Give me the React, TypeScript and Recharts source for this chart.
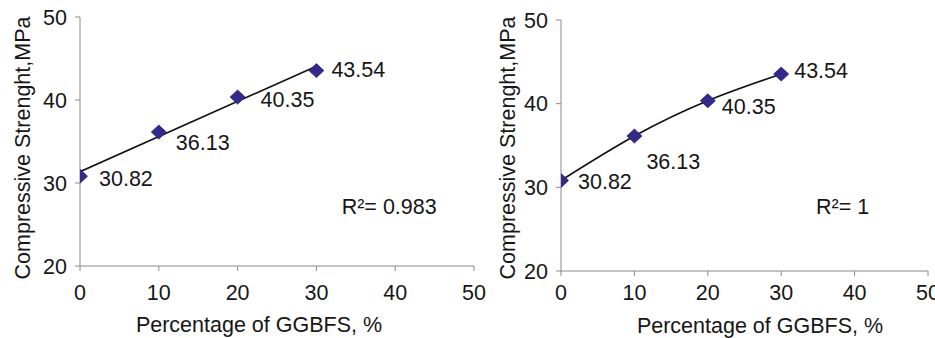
import React from 'react';
import { ComposedChart, Scatter, Line, XAxis, YAxis } from 'recharts';

// ---- data ----
const ggbfs = [0, 10, 20, 30];
const strength = [30.82, 36.13, 40.35, 43.54];
const strengthLabels = ['30.82', '36.13', '40.35', '43.54'];
const linearTrendX = [0, 30];
const linearTrendY = [31.35, 44.07];
const xTicks = [0, 10, 20, 30, 40, 50];
const yTicks = [20, 30, 40, 50];
const r2Left = 'R\u00B2= 0.983';
const r2Right = 'R\u00B2= 1';
const xTitle = 'Percentage of GGBFS, %';
const yTitle = 'Compressive Strenght,MPa';

// label placement offsets (style, relative to each marker)
const leftLabelOffsets = [[19, 2.5], [17, 10.5], [23, 3], [15, -0.5]];
const rightLabelOffsets = [[17, 1.5], [12, 26], [14, 6], [13, -3]];

const FONT = '"Liberation Sans", Arial, Helvetica, sans-serif';
const FS = 21.5;
const TEXT = '#161616';
const AXIS = '#8a8a8a';
const MARK = '#33288c';

const points = ggbfs.map((x, i) => ({ x, y: strength[i], label: strengthLabels[i] }));
const trendPoints = linearTrendX.map((x, i) => ({ x, y: linearTrendY[i] }));

const makeShape = (offsets: number[][]) => (p: any) => {
  const { cx, cy, payload } = p;
  const idx = ggbfs.indexOf(payload.x);
  const hw = 7.5;
  const hh = 7;
  const [dx, dy] = offsets[idx] || [15, 0];
  return (
    <g>
      <polygon
        points={`${cx},${cy - hh} ${cx + hw},${cy} ${cx},${cy + hh} ${cx - hw},${cy}`}
        fill={MARK}
        stroke="#2a2070"
        strokeWidth={0.8}
      />
      <text
        x={cx + dx}
        y={cy + dy}
        dominantBaseline="central"
        textAnchor="start"
        fontFamily={FONT}
        fontSize={FS}
        fill={TEXT}
      >
        {payload.label}
      </text>
    </g>
  );
};

type PanelProps = {
  left: number;
  width: number;
  yAxisWidth: number;
  marginTop: number;
  marginRight: number;
  xAxisHeight: number;
  xTickMargin: number;
  xTitleDx: number;
  xTitleOffset: number;
  yTitleDx: number;
  yTitleDy: number;
  offsets: number[][];
  curved: boolean;
  r2: string;
  r2X: number;
  r2Y: number;
};

const Panel = (p: PanelProps) => (
  <div style={{ position: 'absolute', left: p.left, top: 0, width: p.width, height: 338 }}>
    <ComposedChart
      width={p.width}
      height={338}
      margin={{ top: p.marginTop, right: p.marginRight, bottom: 0, left: 0 }}
      style={{ overflow: 'visible' }}
    >
      <XAxis
        type="number"
        dataKey="x"
        domain={[0, 50]}
        ticks={xTicks}
        interval={0}
        height={p.xAxisHeight}
        allowDataOverflow
        stroke={AXIS}
        tickSize={5}
        tickMargin={p.xTickMargin}
        tick={{ fill: TEXT, fontSize: FS, fontFamily: FONT }}
        tickLine={{ stroke: AXIS }}
        label={{
          value: xTitle,
          position: 'insideBottom',
          offset: p.xTitleOffset,
          dx: p.xTitleDx,
          fill: TEXT,
          fontSize: FS,
          fontFamily: FONT,
        }}
      />
      <YAxis
        type="number"
        dataKey="y"
        domain={[20, 50]}
        ticks={yTicks}
        interval={0}
        width={p.yAxisWidth}
        allowDataOverflow
        stroke={AXIS}
        tickSize={5}
        tickMargin={8}
        tick={{ fill: TEXT, fontSize: FS, fontFamily: FONT }}
        tickLine={{ stroke: AXIS }}
        label={{
          value: yTitle,
          angle: -90,
          position: 'center',
          dx: p.yTitleDx,
          dy: p.yTitleDy,
          fill: TEXT,
          fontSize: FS,
          fontFamily: FONT,
        }}
      />
      {p.curved ? (
        <Line
          data={points}
          dataKey="y"
          type="natural"
          stroke="#111"
          strokeWidth={1.7}
          dot={false}
          activeDot={false}
          isAnimationActive={false}
        />
      ) : (
        <Line
          data={trendPoints}
          dataKey="y"
          type="linear"
          stroke="#111"
          strokeWidth={1.7}
          dot={false}
          activeDot={false}
          isAnimationActive={false}
        />
      )}
      <Scatter data={points} dataKey="y" shape={makeShape(p.offsets)} isAnimationActive={false} />
    </ComposedChart>
    <div
      style={{
        position: 'absolute',
        left: p.r2X,
        top: p.r2Y,
        fontFamily: FONT,
        fontSize: FS,
        color: TEXT,
        lineHeight: '24px',
        whiteSpace: 'nowrap',
        transform: 'translateY(-50%)',
      }}
    >
      {p.r2}
    </div>
  </div>
);

export default function App() {
  return (
    <div style={{ position: 'absolute', left: 0, top: 0, width: 935, height: 338, background: '#fff', overflow: 'hidden' }}>
      <Panel
        left={0}
        width={500}
        yAxisWidth={80}
        marginTop={17}
        marginRight={26}
        xAxisHeight={72}
        xTickMargin={14}
        xTitleDx={-18}
        xTitleOffset={6}
        yTitleDx={-17.5}
        yTitleDy={6.5}
        offsets={leftLabelOffsets}
        curved={false}
        r2={r2Left}
        r2X={341.7}
        r2Y={206.7}
      />
      <Panel
        left={470}
        width={465}
        yAxisWidth={91}
        marginTop={20}
        marginRight={7}
        xAxisHeight={67}
        xTickMargin={9}
        xTitleDx={15.5}
        xTitleOffset={5.5}
        yTitleDx={-8}
        yTitleDy={2.5}
        offsets={rightLabelOffsets}
        curved={true}
        r2={r2Right}
        r2X={346}
        r2Y={206.7}
      />
    </div>
  );
}
